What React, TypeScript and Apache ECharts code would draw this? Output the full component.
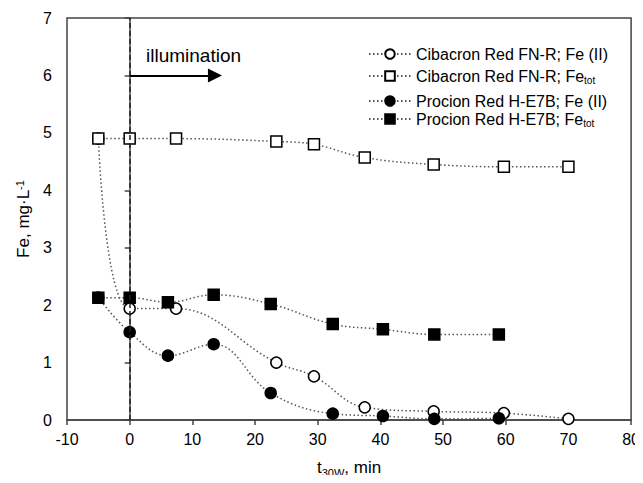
import React, { useEffect, useRef } from "react";
import * as echarts from "echarts";

const cibTimes = [-5, 0, 7.4, 23.4, 29.4, 37.5, 48.5, 59.7, 70];
const cibFe2 = [4.9, 1.94, 1.94, 1.0, 0.76, 0.22, 0.15, 0.12, 0.02];
const cibFeTot = [4.9, 4.9, 4.9, 4.85, 4.8, 4.57, 4.45, 4.41, 4.41];

const proTimes = [-5, 0, 6.1, 13.4, 22.5, 32.4, 40.4, 48.6, 58.9];
const proFe2 = [2.13, 1.53, 1.12, 1.32, 0.47, 0.11, 0.07, 0.02, 0.03];
const proFeTot = [2.13, 2.13, 2.05, 2.18, 2.02, 1.67, 1.58, 1.49, 1.49];

const seriesNames = [
  "Cibacron Red FN-R; Fe (II)",
  "Cibacron Red FN-R; Fe_tot",
  "Procion Red H-E7B; Fe (II)",
  "Procion Red H-E7B; Fe_tot",
];

const illuminationStart = 0;
const arrowEnd = 13.6;
const arrowLevel = 6;

const FONT = "'Liberation Sans', Arial, sans-serif";

export default function App() {
  const ref = useRef<HTMLDivElement>(null);
  useEffect(() => {
    if (!ref.current) return;
    const chart = echarts.init(ref.current, undefined, { renderer: "svg" });
    const pair = (t: number[], v: number[]) => t.map((x, i) => [x, v[i]]);
    const lineStyle = { color: "#555", width: 1.5, type: [1.5, 2.5] as any };
    const mk = (
      name: string,
      data: number[][],
      symbol: string,
      filled: boolean,
      extra: any = {}
    ) => ({
      name,
      type: "line",
      data,
      smooth: 0.4,
      symbol,
      symbolSize: 11,
      showSymbol: true,
      lineStyle,
      itemStyle: {
        color: filled ? "#000" : "#fff",
        borderColor: "#000",
        borderWidth: 1.5,
      },
      z: 3,
      ...extra,
    });
    const legendBase = (name: string, top: number) => ({
      data: [name],
      left: 363,
      top,
      orient: "vertical",
      itemWidth: 42,
      itemHeight: 12,
      selectedMode: false,
      formatter: (n: string) =>
        n.endsWith("_tot") ? n.replace("_tot", "") + "{sub|tot}" : n,
      textStyle: {
        fontFamily: FONT,
        fontSize: 16,
        color: "#000",
        rich: {
          sub: {
            fontFamily: FONT,
            fontSize: 10,
            color: "#000",
            verticalAlign: "bottom",
            padding: [8, 0, 0, 0],
          },
        },
      },
    });
    chart.setOption({
      animation: false,
      grid: {
        left: 67,
        top: 18,
        right: 10,
        bottom: 57,
        show: true,
        borderColor: "#444",
        borderWidth: 1.5,
      },
      legend: [
        legendBase(seriesNames[0], 41),
        legendBase(seriesNames[1], 63),
        legendBase(seriesNames[2], 88),
        legendBase(seriesNames[3], 106),
      ],
      xAxis: {
        type: "value",
        min: -10,
        max: 80,
        interval: 10,
        axisLine: { show: true, onZero: false, lineStyle: { color: "#444", width: 1.5 } },
        axisTick: { show: true, inside: false, length: 5, lineStyle: { color: "#444", width: 1.5 } },
        splitLine: { show: false },
        axisLabel: { fontFamily: FONT, fontSize: 16, color: "#000", margin: 11 },
        name: "t{sub|30W}, min",
        nameLocation: "middle",
        nameGap: 37,
        nameTextStyle: {
          fontFamily: FONT,
          fontSize: 17,
          color: "#000",
          rich: {
            sub: {
              fontFamily: FONT,
              fontSize: 11,
              color: "#000",
              verticalAlign: "bottom",
              padding: [10, 0, 0, 0],
            },
          },
        },
      },
      yAxis: {
        type: "value",
        min: 0,
        max: 7,
        interval: 1,
        axisLine: { show: true, lineStyle: { color: "#444", width: 1.5 } },
        axisTick: { show: true, inside: false, length: 5, lineStyle: { color: "#444", width: 1.5 } },
        splitLine: { show: false },
        axisLabel: { fontFamily: FONT, fontSize: 16, color: "#000", margin: 15 },
        name: "Fe, mg·L{sup|-1}",
        nameLocation: "middle",
        nameGap: 34,
        nameTextStyle: {
          fontFamily: FONT,
          fontSize: 17,
          color: "#000",
          rich: {
            sup: {
              fontFamily: FONT,
              fontSize: 11,
              color: "#000",
              verticalAlign: "top",
              padding: [0, 0, 8, 0],
            },
          },
        },
      },
      graphic: [
        {
          type: "text",
          left: 146,
          top: 46,
          style: { text: "illumination", fontFamily: FONT, fontSize: 19, fill: "#000" },
          z: 10,
        },
      ],
      series: [
        mk(seriesNames[0], pair(cibTimes, cibFe2), "circle", false, {
          markLine: {
            silent: true,
            symbol: ["none", "none"],
            label: { show: false },
            lineStyle: { color: "#222", width: 1.5, type: [5, 3] },
            data: [[{ coord: [illuminationStart, 0] }, { coord: [illuminationStart, 7] }]],
          },
        }),
        mk(seriesNames[1], pair(cibTimes, cibFeTot), "rect", false, {
          markLine: {
            silent: true,
            symbol: ["none", "triangle"],
            symbolSize: [14, 14],
            label: { show: false },
            lineStyle: { color: "#000", width: 2.2, type: "solid" },
            data: [[{ coord: [illuminationStart, arrowLevel] }, { coord: [arrowEnd, arrowLevel] }]],
          },
        }),
        mk(seriesNames[2], pair(proTimes, proFe2), "circle", true),
        mk(seriesNames[3], pair(proTimes, proFeTot), "rect", true),
      ],
    });
    return () => chart.dispose();
  }, []);
  return <div ref={ref} style={{ width: 643, height: 483, margin: -8 }} />;
}
